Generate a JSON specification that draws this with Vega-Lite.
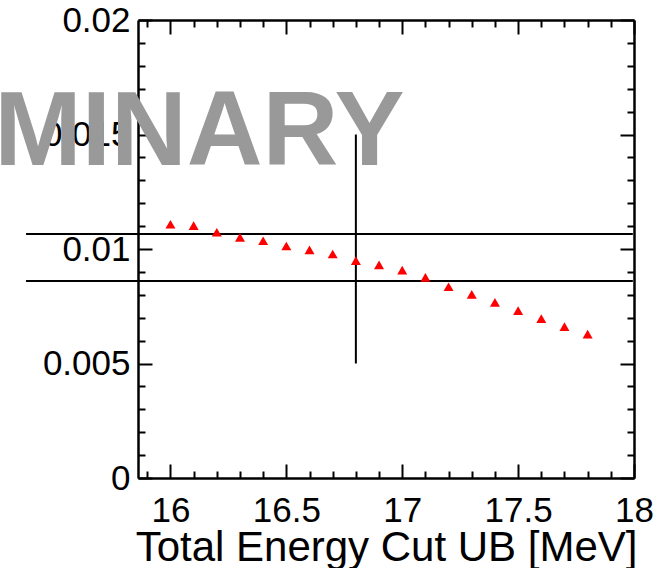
{
  "$schema": "https://vega.github.io/schema/vega-lite/v6.json",
  "width": 496,
  "height": 458,
  "autosize": "none",
  "padding": {"left": 138, "top": 20, "right": 32, "bottom": 90},
  "background": "white",
  "config": {"view": {"stroke": null}, "font": "Liberation Sans"},
  "datasets": {
    "points": [
      {"x": 16.0, "y": 0.01108}, {"x": 16.1, "y": 0.01102}, {"x": 16.2, "y": 0.01073},
      {"x": 16.3, "y": 0.01051}, {"x": 16.4, "y": 0.01036}, {"x": 16.5, "y": 0.01013},
      {"x": 16.6, "y": 0.00996}, {"x": 16.7, "y": 0.00978}, {"x": 16.8, "y": 0.00949},
      {"x": 16.9, "y": 0.00931}, {"x": 17.0, "y": 0.00908}, {"x": 17.1, "y": 0.00876},
      {"x": 17.2, "y": 0.00835}, {"x": 17.3, "y": 0.00802}, {"x": 17.4, "y": 0.00767},
      {"x": 17.5, "y": 0.00731}, {"x": 17.6, "y": 0.00696}, {"x": 17.7, "y": 0.00661},
      {"x": 17.8, "y": 0.00628}
    ],
    "hlines": [
      {"x": 15.377, "x2": 17.995, "y": 0.01066},
      {"x": 15.377, "x2": 17.995, "y": 0.0086}
    ],
    "vline": [{"x": 16.8, "y": 0.005, "y2": 0.015}],
    "label": [{"x": 17.01, "y": 0.01367, "text": "PRELIMINARY"}]
  },
  "layer": [
    {
      "data": {"name": "label"},
      "mark": {"type": "text", "align": "right", "baseline": "alphabetic", "font": "Liberation Sans", "fontWeight": "bold", "fontSize": 105, "color": "#999999", "clip": false},
      "encoding": {
        "x": {"field": "x", "type": "quantitative", "scale": {"domain": [15.86, 18.0], "nice": false, "zero": false},
          "axis": {
            "orient": "bottom",
            "values": [15.9, 16.0, 16.1, 16.2, 16.3, 16.4, 16.5, 16.6, 16.7, 16.8, 16.9, 17.0, 17.1, 17.2, 17.3, 17.4, 17.5, 17.6, 17.7, 17.8, 17.9, 18.0],
            "format": "~g",
            "labelExpr": "abs(datum.value*2 - round(datum.value*2)) < 0.01 ? datum.label : ''",
            "labelOverlap": false, "labelFlush": false, "labelBound": false,
            "labelFont": "Liberation Sans", "labelFontSize": 35, "labelColor": "black", "labelPadding": 29,
            "tickSize": {"condition": {"test": "abs(datum.value*2 - round(datum.value*2)) < 0.01", "value": -14}, "value": -7},
            "tickColor": "black", "tickWidth": 2,
            "domainColor": "black", "domainWidth": 2.5,
            "grid": false,
            "title": "Total Energy Cut UB [MeV]",
            "titleFont": "Liberation Sans", "titleFontSize": 42, "titleFontWeight": "normal", "titleColor": "black",
            "titleAnchor": "end", "titleAlign": "right", "titleBaseline": "alphabetic",
            "titleX": 499, "titleY": 82
          }
        },
        "y": {"field": "y", "type": "quantitative", "scale": {"domain": [0, 0.02], "nice": false, "zero": false},
          "axis": {
            "orient": "left",
            "values": [0, 0.001, 0.002, 0.003, 0.004, 0.005, 0.006, 0.007, 0.008, 0.009, 0.01, 0.011, 0.012, 0.013, 0.014, 0.015, 0.016, 0.017, 0.018, 0.019, 0.02],
            "format": "~g",
            "labelExpr": "abs(datum.value*200 - round(datum.value*200)) < 0.01 ? datum.label : ''",
            "labelOverlap": false, "labelFlush": false, "labelBound": false,
            "labelFont": "Liberation Sans", "labelFontSize": 35, "labelColor": "black", "labelPadding": 22,
            "tickSize": {"condition": {"test": "abs(datum.value*200 - round(datum.value*200)) < 0.01", "value": -14}, "value": -7},
            "tickColor": "black", "tickWidth": 2,
            "domainColor": "black", "domainWidth": 2.5,
            "grid": false,
            "title": null
          }
        },
        "text": {"field": "text"}
      }
    },
    {
      "data": {"name": "hlines"},
      "mark": {"type": "rule", "color": "black", "strokeWidth": 2, "clip": false},
      "encoding": {
        "x": {"field": "x", "type": "quantitative",
          "axis": {
            "orient": "top",
            "values": [15.9, 16.0, 16.1, 16.2, 16.3, 16.4, 16.5, 16.6, 16.7, 16.8, 16.9, 17.0, 17.1, 17.2, 17.3, 17.4, 17.5, 17.6, 17.7, 17.8, 17.9, 18.0],
            "labels": false,
            "tickSize": {"condition": {"test": "abs(datum.value*2 - round(datum.value*2)) < 0.01", "value": -14}, "value": -7},
            "tickColor": "black", "tickWidth": 2,
            "domainColor": "black", "domainWidth": 2.5,
            "grid": false, "title": null
          }
        },
        "x2": {"field": "x2"},
        "y": {"field": "y", "type": "quantitative",
          "axis": {
            "orient": "right",
            "values": [0, 0.001, 0.002, 0.003, 0.004, 0.005, 0.006, 0.007, 0.008, 0.009, 0.01, 0.011, 0.012, 0.013, 0.014, 0.015, 0.016, 0.017, 0.018, 0.019, 0.02],
            "labels": false,
            "tickSize": {"condition": {"test": "abs(datum.value*200 - round(datum.value*200)) < 0.01", "value": -14}, "value": -7},
            "tickColor": "black", "tickWidth": 2,
            "domainColor": "black", "domainWidth": 2.5,
            "grid": false, "title": null
          }
        }
      }
    },
    {
      "data": {"name": "vline"},
      "mark": {"type": "rule", "color": "black", "strokeWidth": 2},
      "encoding": {
        "x": {"field": "x", "type": "quantitative", "axis": null},
        "y": {"field": "y", "type": "quantitative", "axis": null},
        "y2": {"field": "y2"}
      }
    },
    {
      "data": {"name": "points"},
      "mark": {"type": "point", "shape": "triangle-up", "filled": true, "color": "#ff0000", "size": 100, "opacity": 1},
      "encoding": {
        "x": {"field": "x", "type": "quantitative", "axis": null},
        "y": {"field": "y", "type": "quantitative", "axis": null}
      }
    }
  ],
  "resolve": {"axis": {"x": "independent", "y": "independent"}}
}
